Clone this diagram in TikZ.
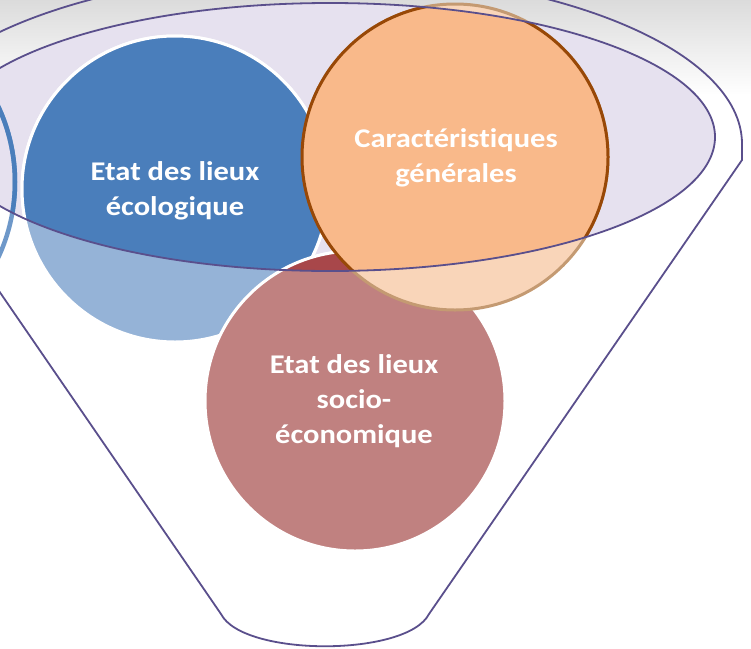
\documentclass[tikz,border=0pt]{standalone}
\usepackage{fontspec}
\setmainfont{Carlito}[FakeStretch=1.13, Ligatures=NoCommon]
\usetikzlibrary{positioning}
\definecolor{rimline}{HTML}{5A4F8C}
\definecolor{rimfill}{HTML}{E6E1EF}
\definecolor{ecoblue}{HTML}{4A7EBB}
\definecolor{ecolight}{HTML}{95B3D7}
\definecolor{genorange}{HTML}{F9B98A}
\definecolor{genlight}{HTML}{F9D5B9}
\definecolor{genborder}{HTML}{984807}
\definecolor{genborderlight}{HTML}{C49A72}
\definecolor{socred}{HTML}{A8474A}
\definecolor{soclight}{HTML}{C08180}

\begin{document}
\begin{tikzpicture}[x=1pt, y=-1pt, rim/.style={draw=rimline, line width=1.8pt}, bubbletext/.style={text=white, align=center, font=\fontsize{27}{35}\selectfont\bfseries}, whiteedge/.style={draw=white, line width=3pt}]
\useasboundingbox (0,0) rectangle (751,648);
\shade[top color=black!14, bottom color=white] (0,0) rectangle (751,95);
% top of the funnel
\fill[rimfill] (330,137) ellipse [x radius=385, y radius=134];
\draw[ecoblue!80, line width=4.5pt] (-163,182) circle [radius=178];
% circles outside the rim
\filldraw[fill=ecolight, whiteedge] (175,189) circle [radius=153];
\filldraw[fill=soclight, whiteedge] (355,401) circle [radius=150];
\filldraw[fill=genlight, draw=genborderlight, line width=3pt] (455,157) circle [radius=153];
% circles inside the rim
\begin{scope}
\clip (330,137) ellipse [x radius=385, y radius=134];
\draw[ecoblue, line width=4.5pt] (-163,182) circle [radius=178];
\filldraw[fill=ecoblue, whiteedge] (175,189) circle [radius=153];
\filldraw[fill=socred, whiteedge] (355,401) circle [radius=150];
\filldraw[fill=genorange, draw=genborder, line width=3pt] (455,157) circle [radius=153];
\end{scope}
\draw[rim] (330,137) ellipse [x radius=385, y radius=134];
% funnel outline
\draw[rim] (-102,144) arc [start angle=180, end angle=360, x radius=422, y radius=172] -- (742,160) -- (429,614) .. controls (407,657) and (243,657) .. (221,614) -- cycle;
% labels
\node[bubbletext] (eco) at (175,191) {Etat des lieux\\écologique};
\node[bubbletext] (gen) at (456,158) {Caractéristiques\\générales};
\node[bubbletext] (soc) at (354,401) {Etat des lieux\\socio-\\économique};
\end{tikzpicture}
\end{document}
